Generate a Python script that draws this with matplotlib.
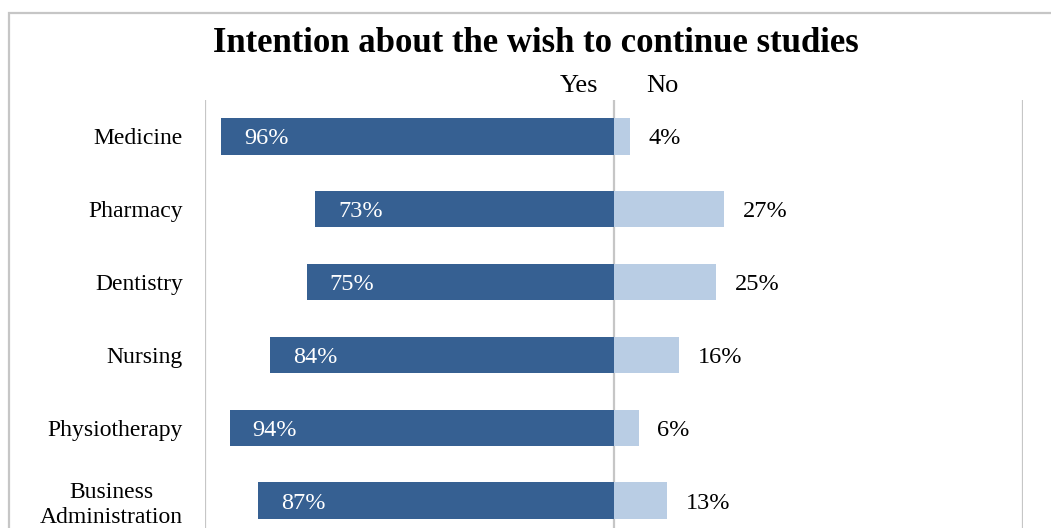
import matplotlib.pyplot as plt
from matplotlib.patches import Rectangle

# data
categories = ["Medicine", "Pharmacy", "Dentistry", "Nursing",
              "Physiotherapy", "Business\nAdministration"]
yes_pct = [96, 73, 75, 84, 94, 87]
no_pct = [4, 27, 25, 16, 6, 13]

dark = "#366092"
light = "#B9CDE4"
grid_c = "#c6c6c6"

plt.rcParams['font.family'] = ['Liberation Serif', 'DejaVu Serif']

W, H = 1051, 528
fig = plt.figure(figsize=(W / 100, H / 100), dpi=100)

# outer chart frame (cropped at right / bottom in the original)
fig.patches.append(Rectangle((9 / W, -0.1), 1.2, 1 - 13 / H + 0.1,
                             transform=fig.transFigure, fill=False,
                             edgecolor=grid_c, lw=1.6))

# plot area: left 205px, right 1023px, top 100px, runs off the bottom
ax = fig.add_axes([205 / W, -9 / H, 818 / W, 437 / H])

pos = list(range(len(categories)))
ax.barh(pos, [-v for v in yes_pct], height=0.5, color=dark, zorder=2)
ax.barh(pos, no_pct, height=0.5, color=light, zorder=2)

ax.set_xlim(-100, 100)
ax.set_ylim(len(categories) - 0.5, -0.5)

for x in (-100, 0, 100):
    ax.axvline(x, color=grid_c, lw=1.6, zorder=1)

for i in pos:
    ax.text(-yes_pct[i] + 5.5, i, f"{yes_pct[i]}%", color="white",
            ha="left", va="center_baseline", fontsize=17.5, zorder=3)
    ax.text(no_pct[i] + 4.5, i, f"{no_pct[i]}%", color="black",
            ha="left", va="center_baseline", fontsize=17.5, zorder=3)

ax.set_yticks(pos)
ax.set_yticklabels(categories, fontsize=17)
for lab in ax.get_yticklabels():
    lab.set_multialignment("center")
    lab.set_linespacing(1.25)
ax.tick_params(axis="y", length=0, pad=16)
ax.set_xticks([])
for s in ax.spines.values():
    s.set_visible(False)

# series labels above the centre line
fig.text(598 / W, 1 - 84 / H, "Yes", ha="right", va="center_baseline", fontsize=19)
fig.text(646 / W, 1 - 84 / H, "No", ha="left", va="center_baseline", fontsize=19)

fig.text(536 / W, 1 - 39 / H, "Intention about the wish to continue studies",
         ha="center", va="center_baseline", fontsize=25, fontweight="bold")

fig.savefig("out.png", dpi=100)
